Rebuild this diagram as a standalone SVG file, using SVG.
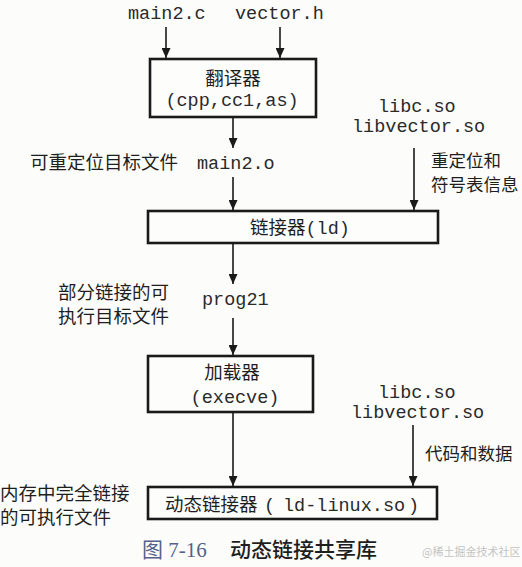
<svg xmlns="http://www.w3.org/2000/svg" width="522" height="567" viewBox="0 0 522 567">
<defs>
<marker id="ah" markerWidth="10" markerHeight="9" refX="10" refY="4.5" orient="auto" markerUnits="userSpaceOnUse">
<path d="M0,0 L10,4.5 L0,9 z" fill="#1a1a1a"/>
</marker>
<style>
.box{fill:#fdfdfc;stroke:#1a1a1a;stroke-width:2.6}
.ln{stroke:#1a1a1a;stroke-width:1.6;fill:none;marker-end:url(#ah)}
.cj{font-family:"Noto Sans CJK SC","Noto Sans",sans-serif;font-size:18.5px;fill:#1e1e1e}
.cjs{font-family:"Noto Sans CJK SC","Noto Sans",sans-serif;font-size:17.5px;fill:#1e1e1e}
.mo{font-family:"Liberation Mono","DejaVu Sans Mono",monospace;font-size:18.5px;fill:#2a2a2a}
.cap{font-family:"Noto Sans CJK SC",sans-serif;font-size:21px;fill:#1e1e1e;font-weight:500}
.capn{font-family:"Liberation Serif","Noto Sans CJK SC",serif;font-size:21px;fill:#52628a}
.wm{font-family:"Noto Sans CJK SC",sans-serif;font-size:11px;fill:#c4c4c4}
</style>
</defs>
<rect x="0" y="0" width="522" height="567" fill="#fcfcfa"/>

<g id="connectors">
<line class="ln" x1="166" y1="27" x2="166" y2="58"/>
<line class="ln" x1="280" y1="27" x2="280" y2="58"/>
<line class="ln" x1="233" y1="118" x2="233" y2="148"/>
<line class="ln" x1="233" y1="177" x2="233" y2="210"/>
<line class="ln" x1="414" y1="148" x2="414" y2="210"/>
<line class="ln" x1="233" y1="244" x2="233" y2="284"/>
<line class="ln" x1="233" y1="318" x2="233" y2="355"/>
<line class="ln" x1="233" y1="413" x2="233" y2="486"/>
<line class="ln" x1="413" y1="425" x2="413" y2="486"/>
</g>

<g id="src-main2c"><text class="mo" x="128" y="19">main2.c</text></g>
<g id="src-vectorh"><text class="mo" x="235" y="19">vector.h</text></g>

<g id="translator">
<rect class="box" x="150" y="59" width="166" height="58"/>
<text class="cj" x="233" y="85" text-anchor="middle">翻译器</text>
<text class="mo" x="232" y="106" text-anchor="middle">(cpp,cc1,as)</text>
</g>

<g id="libs1">
<text class="mo" x="378" y="112">libc.so</text>
<text class="mo" x="352" y="132">libvector.so</text>
</g>

<g id="main2o">
<text class="cj" x="30" y="169">可重定位目标文件</text>
<text class="mo" x="197" y="169">main2.o</text>
</g>

<g id="reloc-label">
<text class="cjs" x="431" y="167">重定位和</text>
<text class="cjs" x="431" y="191">符号表信息</text>
</g>

<g id="linker">
<rect class="box" x="148" y="211" width="290" height="32"/>
<text x="250" y="234"><tspan class="cj">链接器</tspan><tspan class="mo">(ld)</tspan></text>
</g>

<g id="prog21-label">
<text class="cj" x="58" y="299">部分链接的可</text>
<text class="cj" x="58" y="323">执行目标文件</text>
</g>
<g id="prog21"><text class="mo" x="202" y="305">prog21</text></g>

<g id="loader">
<rect class="box" x="148" y="356" width="165" height="56"/>
<text class="cj" x="232" y="379" text-anchor="middle">加载器</text>
<text class="mo" x="235" y="403" text-anchor="middle">(execve)</text>
</g>

<g id="libs2">
<text class="mo" x="378" y="398">libc.so</text>
<text class="mo" x="351" y="418">libvector.so</text>
</g>

<g id="code-data"><text class="cjs" x="425" y="460">代码和数据</text></g>

<g id="mem-label">
<text class="cj" x="0" y="500">内存中完全链接</text>
<text class="cj" x="0" y="524">的可执行文件</text>
</g>

<g id="dynlinker">
<rect class="box" x="148" y="487" width="289" height="32"/>
<text class="cj" x="165" y="511">动态链接器</text>
<text class="mo" x="264" y="511">(</text>
<text class="mo" x="283" y="511">ld-linux.so</text>
<text class="mo" x="408" y="511">)</text>
</g>

<g id="caption">
<text class="capn" x="142" y="557">图 7-16</text>
<text class="cap" x="230" y="557">动态链接共享库</text>
<text class="wm" x="422" y="556">@稀土掘金技术社区</text>
</g>
</svg>
